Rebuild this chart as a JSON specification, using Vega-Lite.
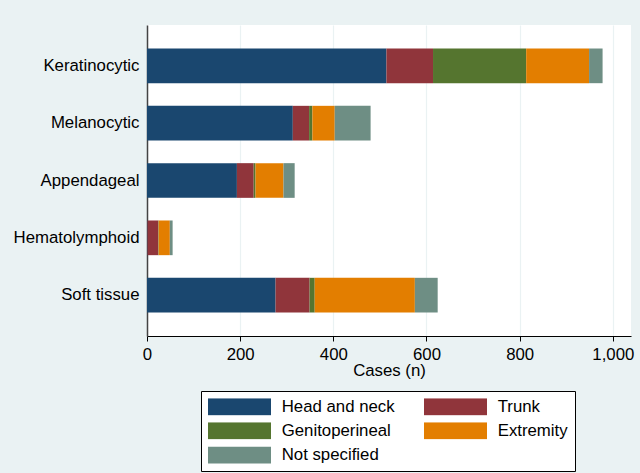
{
  "$schema": "https://vega.github.io/schema/vega-lite/v6.json",
  "width": 484,
  "height": 311,
  "autosize": {"type": "none"},
  "padding": {"left": 147, "top": 25, "right": 9, "bottom": 137},
  "background": "#eaf2f3",
  "config": {"view": {"fill": "white", "stroke": null}, "font": "Liberation Sans"},
  "data": {
    "values": [
      {"type": "Keratinocytic", "site": "Head and neck", "o": 1, "cases": 514},
      {"type": "Keratinocytic", "site": "Trunk", "o": 2, "cases": 100},
      {"type": "Keratinocytic", "site": "Genitoperineal", "o": 3, "cases": 200},
      {"type": "Keratinocytic", "site": "Extremity", "o": 4, "cases": 135},
      {"type": "Keratinocytic", "site": "Not specified", "o": 5, "cases": 29},
      {"type": "Melanocytic", "site": "Head and neck", "o": 1, "cases": 313},
      {"type": "Melanocytic", "site": "Trunk", "o": 2, "cases": 35},
      {"type": "Melanocytic", "site": "Genitoperineal", "o": 3, "cases": 7},
      {"type": "Melanocytic", "site": "Extremity", "o": 4, "cases": 48},
      {"type": "Melanocytic", "site": "Not specified", "o": 5, "cases": 77},
      {"type": "Appendageal", "site": "Head and neck", "o": 1, "cases": 193},
      {"type": "Appendageal", "site": "Trunk", "o": 2, "cases": 36},
      {"type": "Appendageal", "site": "Genitoperineal", "o": 3, "cases": 4},
      {"type": "Appendageal", "site": "Extremity", "o": 4, "cases": 60},
      {"type": "Appendageal", "site": "Not specified", "o": 5, "cases": 24},
      {"type": "Hematolymphoid", "site": "Head and neck", "o": 1, "cases": 1},
      {"type": "Hematolymphoid", "site": "Trunk", "o": 2, "cases": 23},
      {"type": "Hematolymphoid", "site": "Genitoperineal", "o": 3, "cases": 1},
      {"type": "Hematolymphoid", "site": "Extremity", "o": 4, "cases": 24},
      {"type": "Hematolymphoid", "site": "Not specified", "o": 5, "cases": 6},
      {"type": "Soft tissue", "site": "Head and neck", "o": 1, "cases": 276},
      {"type": "Soft tissue", "site": "Trunk", "o": 2, "cases": 73},
      {"type": "Soft tissue", "site": "Genitoperineal", "o": 3, "cases": 11},
      {"type": "Soft tissue", "site": "Extremity", "o": 4, "cases": 215},
      {"type": "Soft tissue", "site": "Not specified", "o": 5, "cases": 49}
    ]
  },
  "mark": {"type": "bar"},
  "encoding": {
    "y": {
      "field": "type",
      "type": "nominal",
      "sort": ["Keratinocytic", "Melanocytic", "Appendageal", "Hematolymphoid", "Soft tissue"],
      "scale": {"paddingInner": 0.395, "paddingOuter": 0.41},
      "axis": {
        "title": null,
        "labelFontSize": 16.8,
        "labelColor": "#000",
        "tickSize": 0,
        "ticks": false,
        "labelPadding": 8,
        "domainColor": "#444",
        "domainWidth": 1.5,
        "grid": false
      }
    },
    "x": {
      "field": "cases",
      "type": "quantitative",
      "stack": "zero",
      "scale": {"domain": [0, 1039], "nice": false},
      "axis": {
        "title": "Cases (n)",
        "values": [0, 200, 400, 600, 800, 1000],
        "format": ",d",
        "labelFlush": false,
        "grid": true,
        "gridColor": "#eaf2f3",
        "gridWidth": 1.2,
        "tickSize": 5,
        "tickColor": "#000",
        "domainColor": "#000",
        "labelFontSize": 16.8,
        "labelPadding": 5,
        "labelColor": "#000",
        "titleFontSize": 16.8,
        "titleFontWeight": "normal",
        "titleColor": "#000",
        "titlePadding": 0
      }
    },
    "color": {
      "field": "site",
      "type": "nominal",
      "scale": {
        "domain": ["Head and neck", "Trunk", "Genitoperineal", "Extremity", "Not specified"],
        "range": ["#1a476f", "#90353b", "#55752f", "#e37e00", "#6e8e84"]
      },
      "legend": {
        "title": null,
        "orient": "none",
        "direction": "horizontal",
        "legendX": 54,
        "legendY": 366,
        "columns": 2,
        "symbolType": "M-1,-0.27H1V0.27H-1Z",
        "symbolSize": 3969,
        "symbolStrokeWidth": 0,
        "symbolOpacity": 1,
        "clipHeight": 17,
        "rowPadding": 6.3,
        "columnPadding": 29,
        "labelOffset": 10.7,
        "labelFontSize": 16.8,
        "labelColor": "#000",
        "labelLimit": 200,
        "fillColor": "white",
        "strokeColor": "#000",
        "padding": 7,
        "symbolOffset": 0
      }
    },
    "order": {"field": "o", "type": "quantitative"}
  }
}
